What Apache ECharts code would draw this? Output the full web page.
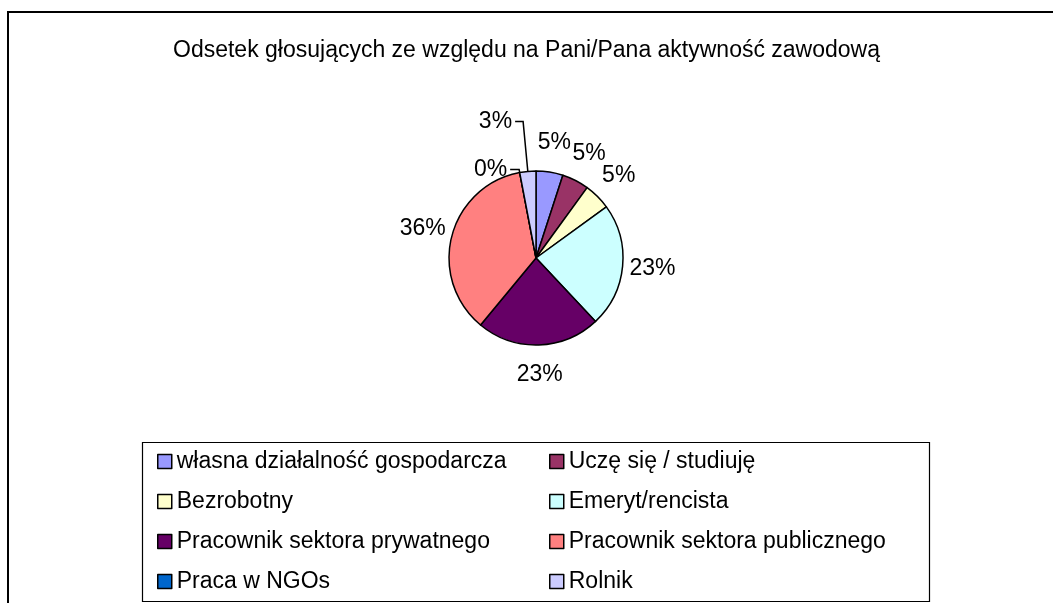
<!DOCTYPE html>
<html>
<head>
<meta charset="utf-8">
<script src="https://cdn.jsdelivr.net/npm/echarts@6/dist/echarts.min.js"></script>
<style>
  html, body { margin: 0; padding: 0; background: #fff; }
  #chart { width: 1053px; height: 603px; }
</style>
</head>
<body>
<div id="chart"></div>
<script>
// Voting share by occupational activity (percent)
var categories = [
  'własna działalność gospodarcza',
  'Uczę się / studiuję',
  'Bezrobotny',
  'Emeryt/rencista',
  'Pracownik sektora prywatnego',
  'Pracownik sektora publicznego',
  'Praca w NGOs',
  'Rolnik'
];
var shares = [5, 5, 5, 23, 23, 36, 0, 3];
var colors = ['#9999FF', '#993366', '#FFFFCC', '#CCFFFF', '#660066', '#FF8080', '#0066CC', '#CCCCFF'];
var titleText = 'Odsetek głosujących ze względu na Pani/Pana aktywność zawodową';

var FONT = 'Liberation Sans, Arial, sans-serif';
var FONT_SIZE = 23;

// Small slices near the top get an elbow leader line instead of a centred label
var leaderLines = {
  6: { length: 3, length2: 9 },
  7: { length: 50, length2: 8 }
};

var pieData = categories.map(function (name, i) {
  var item = { name: name, value: shares[i], itemStyle: { color: colors[i] } };
  if (leaderLines[i]) {
    item.labelLine = { show: true, length: leaderLines[i].length, length2: leaderLines[i].length2 };
    item.label = { distanceToLabelLine: 3 };
  }
  return item;
});

var leftColumn = categories.filter(function (_, i) { return i % 2 === 0; });
var rightColumn = categories.filter(function (_, i) { return i % 2 === 1; });

function legendColumn(names, left) {
  return {
    data: names,
    orient: 'vertical',
    left: left,
    top: 445,
    itemWidth: 14,
    itemHeight: 14,
    itemGap: 17,
    icon: 'rect',
    selectedMode: false,
    itemStyle: { borderColor: '#000', borderWidth: 1.5 },
    textStyle: { fontFamily: FONT, fontSize: FONT_SIZE, color: '#000', lineHeight: 23 }
  };
}

var chart = echarts.init(document.getElementById('chart'), null, { renderer: 'canvas' });
chart.setOption({
  backgroundColor: '#fff',
  animation: false,
  title: {
    text: titleText,
    left: 'center',
    top: 34,
    textStyle: { fontFamily: FONT, fontSize: FONT_SIZE, fontWeight: 'normal', color: '#000' }
  },
  legend: [legendColumn(leftColumn, 152), legendColumn(rightColumn, 544)],
  graphic: [
    {
      type: 'rect',
      shape: { x: 8, y: 12, width: 1200, height: 800 },
      style: { fill: 'none', stroke: '#000', lineWidth: 2 },
      silent: true
    },
    {
      type: 'rect',
      shape: { x: 142.5, y: 442.5, width: 787, height: 159 },
      style: { fill: 'none', stroke: '#000', lineWidth: 1.2 },
      silent: true
    }
  ],
  series: [{
    type: 'pie',
    center: [536, 258],
    radius: 87,
    startAngle: 90,
    clockwise: true,
    avoidLabelOverlap: false,
    stillShowZeroSum: true,
    data: pieData,
    itemStyle: { borderColor: '#000', borderWidth: 1.5 },
    emphasis: { disabled: true },
    label: {
      show: true,
      position: 'outside',
      formatter: '{c}%',
      fontFamily: FONT,
      fontSize: FONT_SIZE,
      color: '#000',
      distanceToLabelLine: 0
    },
    labelLine: {
      show: false,
      length: 30,
      length2: 0,
      lineStyle: { color: '#000', width: 1.5 }
    },
    // centre plain labels on their anchor point; leader-line labels keep their alignment
    labelLayout: function (p) {
      if (leaderLines[p.dataIndex]) return {};
      var w = p.labelRect.width;
      return { dx: p.align === 'right' ? w / 2 : -w / 2 };
    }
  }]
});
</script>
</body>
</html>
